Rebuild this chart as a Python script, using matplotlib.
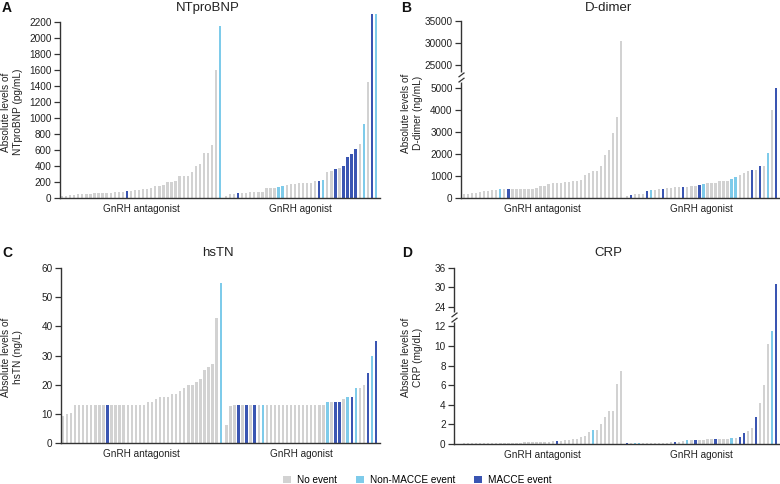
import numpy as np
import matplotlib
matplotlib.use("Agg")
import matplotlib.pyplot as plt
from matplotlib.patches import Patch
from matplotlib.path import Path
import matplotlib.transforms as mtransforms

plt.rcParams['font.family'] = ['Liberation Sans', 'DejaVu Sans']

# ---- data (sorted per group) ----
groups = ["GnRH antagonist", "GnRH agonist"]

ntprobnp_antag = [20, 28, 35, 40, 45, 50, 52, 55, 58, 60, 62, 65, 68, 70, 72, 78, 88, 90, 95, 100,
                  108, 115, 125, 145, 155, 160, 195, 205, 215, 270, 270, 280, 320, 405, 420, 555, 555, 665, 1600, 2150]
ntprobnp_agon = [29, 54, 54, 62, 62, 62, 70, 70, 78, 78, 121, 121, 130, 142, 146, 158, 170, 170, 183, 183,
                 183, 190, 207, 212, 225, 325, 342, 358, 375, 400, 516, 550, 608, 675, 925, 1450, 2900, 2900]

ddimer_antag = [190, 200, 220, 230, 260, 300, 330, 350, 370, 400, 400, 430, 430, 430, 430, 430, 430, 430, 460, 540,
                560, 640, 660, 680, 700, 720, 740, 760, 780, 800, 1050, 1150, 1200, 1230, 1430, 1950, 2180, 2950, 3680, 30500]
ddimer_agon = [105, 135, 180, 195, 195, 300, 345, 375, 405, 420, 440, 450, 490, 495, 510, 515, 530, 560, 590, 650,
               660, 660, 665, 770, 770, 775, 860, 940, 1040, 1130, 1220, 1280, 1290, 1430, 1450, 2020, 3980, 5000]

hstn_antag = [9.5, 10, 10.2, 13, 13, 13, 13, 13, 13, 13, 13, 13, 13, 13, 13, 13, 13, 13, 13, 13,
              13, 14, 14, 15.2, 16, 16, 16, 17, 17, 18, 19, 20, 20, 21, 22, 25, 26, 27, 43, 55]
hstn_agon = [6.3, 12.6, 13, 13, 13, 13, 13, 13, 13, 13, 13, 13, 13, 13, 13, 13, 13, 13, 13, 13,
             13, 13, 13, 13, 13, 14, 14, 14, 14, 15, 16, 16, 19, 19, 20, 24, 30, 35]

crp_antag = [0.07, 0.08, 0.08, 0.1, 0.1, 0.1, 0.1, 0.1, 0.1, 0.1, 0.12, 0.12, 0.15, 0.15, 0.15, 0.17, 0.17, 0.18, 0.2, 0.2,
             0.22, 0.25, 0.27, 0.32, 0.35, 0.4, 0.45, 0.5, 0.55, 0.7, 0.8, 1.2, 1.45, 1.45, 2.0, 2.8, 3.4, 3.4, 6.1, 7.5]
crp_agon = [0.1, 0.08, 0.1, 0.1, 0.1, 0.1, 0.1, 0.1, 0.12, 0.12, 0.15, 0.17, 0.25, 0.25, 0.3, 0.38, 0.4, 0.45, 0.45, 0.45,
            0.47, 0.5, 0.5, 0.5, 0.5, 0.55, 0.6, 0.6, 0.75, 1.1, 1.35, 1.6, 2.8, 4.2, 6.0, 10.2, 11.5, 31]

# patients with events (index within each sorted group)
antag_macce = {"ntprobnp": [16], "ddimer": [11], "hstn": [11], "crp": [23]}
antag_nonmacce = {"ntprobnp": [39], "ddimer": [9], "hstn": [39], "crp": [32]}
agon_macce = {"ntprobnp": [3, 23, 27, 29, 30, 31, 32, 36],
              "ddimer": [1, 5, 9, 14, 18, 31, 33, 37],
              "hstn": [3, 5, 7, 27, 28, 31, 35, 37],
              "crp": [0, 12, 17, 22, 28, 29, 32, 37]}
agon_nonmacce = {"ntprobnp": [13, 14, 24, 34, 37],
                 "ddimer": [6, 19, 26, 27, 35],
                 "hstn": [9, 25, 30, 32, 36],
                 "crp": [2, 3, 15, 26, 36]}

legend_labels = ["No event", "Non-MACCE event", "MACCE event"]

GREY = "#d2d2d2"
LIGHT = "#7ecbea"
DARK = "#3a55b2"
AXC = "#333333"


# broken axes as piecewise-linear scales
def dd_fwd(v):
    v = np.asarray(v, dtype=float)
    return np.where(v <= 5500, v, np.where(v < 25000, 5500 + (v - 5500) * 500 / 19500, 6000 + (v - 25000) / 5))


def dd_inv(y):
    y = np.asarray(y, dtype=float)
    return np.where(y <= 5500, y, np.where(y < 6000, 5500 + (y - 5500) * 19500 / 500, 25000 + (y - 6000) * 5))


def crp_fwd(v):
    v = np.asarray(v, dtype=float)
    return np.where(v <= 13, v, np.where(v < 24, 13 + (v - 13) / 11, 14 + (v - 24) / 3))


def crp_inv(y):
    y = np.asarray(y, dtype=float)
    return np.where(y <= 13, y, np.where(y < 14, 13 + (y - 13) * 11, 24 + (y - 14) * 3))


def colours(n, macce, non):
    c = [GREY] * n
    for i in macce:
        c[i] = DARK
    for i in non:
        c[i] = LIGHT
    return c


W, H = 780, 484
fig = plt.figure(figsize=(W / 100, H / 100), dpi=100)


def px_rect(left, right, top, bottom):
    return [left / W, 1 - bottom / H, (right - left) / W, (bottom - top) / H]


panels = [
    dict(key="ntprobnp", antag=ntprobnp_antag, agon=ntprobnp_agon, title="NTproBNP", letter="A",
         ylabel="Absolute levels of\nNTproBNP (pg/mL)", rect=px_rect(60, 380, 13.5, 198), xl=-0.5,
         ylim=(0, 2300), bounds=(0, 2200), ticks=list(range(0, 2201, 200)), scale=None, brk=None,
         tpos=(208, 8), lpos=(2, 8), ylpx=12, ylpy=112),
    dict(key="ddimer", antag=ddimer_antag, agon=ddimer_agon, title="D-dimer", letter="B",
         ylabel="Absolute levels of\nD-dimer (ng/mL)", rect=px_rect(461, 780, 21.3, 198), xl=-0.75,
         ylim=(0, 35000), bounds=(0, 35000), ticks=[0, 1000, 2000, 3000, 4000, 5000, 25000, 30000, 35000],
         scale=(dd_fwd, dd_inv), brk=5500, tpos=(608, 8), lpos=(401, 8), ylpx=412, ylpy=113),
    dict(key="hstn", antag=hstn_antag, agon=hstn_agon, title="hsTN", letter="C",
         ylabel="Absolute levels of\nhsTN (ng/L)", rect=px_rect(61, 380, 268, 443.3), xl=-0.5,
         ylim=(0, 60), bounds=(0, 60), ticks=list(range(0, 61, 10)), scale=None, brk=None,
         tpos=(218, 253), lpos=(2, 253), ylpx=12, ylpy=357),
    dict(key="crp", antag=crp_antag, agon=crp_agon, title="CRP", letter="D",
         ylabel="Absolute levels of\nCRP (mg/dL)", rect=px_rect(454, 780, 267.7, 444), xl=-2.5,
         ylim=(0, 36), bounds=(0, 36), ticks=[0, 2, 4, 6, 8, 10, 12, 24, 30, 36],
         scale=(crp_fwd, crp_inv), brk=13, tpos=(608, 253), lpos=(402, 253), ylpx=412, ylpy=357),
]

GAP = 0.4
for p in panels:
    ax = fig.add_axes(p["rect"])
    k = p["key"]
    n1, n2 = len(p["antag"]), len(p["agon"])
    x1 = np.arange(n1)
    x2 = n1 + GAP + np.arange(n2)
    if p["scale"] is not None:
        ax.set_yscale("function", functions=p["scale"])
    ax.bar(x1, p["antag"], width=0.58, color=colours(n1, antag_macce[k], antag_nonmacce[k]), linewidth=0)
    ax.bar(x2, p["agon"], width=0.58, color=colours(n2, agon_macce[k], agon_nonmacce[k]), linewidth=0)
    ax.set_xlim(p["xl"], x2[-1] + 1.0)
    ax.set_ylim(*p["ylim"])
    ax.set_yticks(p["ticks"])
    ax.set_yticklabels([str(t) for t in p["ticks"]])
    ax.yaxis.set_minor_locator(matplotlib.ticker.NullLocator())
    ax.set_xticks([x1.mean(), x2.mean()])
    ax.set_xticklabels(groups)
    ax.tick_params(axis="x", length=0, pad=4, labelsize=7.2, colors="#222222")
    ax.tick_params(axis="y", length=4, width=0.9, pad=2, labelsize=7.2, colors="#222222", color=AXC)
    for s in ["top", "right"]:
        ax.spines[s].set_visible(False)
    for s in ["left", "bottom"]:
        ax.spines[s].set_color(AXC)
        ax.spines[s].set_linewidth(1.0)
    ax.spines["left"].set_bounds(*p["bounds"])
    if p["brk"] is not None:
        tr = mtransforms.blended_transform_factory(ax.transAxes, ax.transData)
        gap_m = Path([(0, -0.45), (0, 0.45)], [Path.MOVETO, Path.LINETO])
        slash = Path([(-0.8, -1.3), (0.8, -0.1), (-0.8, 0.1), (0.8, 1.3)],
                     [Path.MOVETO, Path.LINETO, Path.MOVETO, Path.LINETO])
        ax.plot([0], [p["brk"]], transform=tr, marker=gap_m, markersize=7, mec="white", mew=2.0,
                clip_on=False, zorder=5)
        ax.plot([0], [p["brk"]], transform=tr, marker=slash, markersize=7, mec=AXC, mew=0.9,
                clip_on=False, zorder=6)
    # y label, title and panel letter placed in figure pixels
    fig.text(p["ylpx"] / W, 1 - p["ylpy"] / H, p["ylabel"], rotation=90, ha="center", va="center",
             fontsize=7.3, color="#222222", linespacing=1.15, multialignment="center")
    fig.text(p["tpos"][0] / W, 1 - p["tpos"][1] / H, p["title"], ha="center", va="center",
             fontsize=9.5, color="#222222")
    fig.text(p["lpos"][0] / W, 1 - p["lpos"][1] / H, p["letter"], ha="left", va="center",
             fontsize=10, fontweight="bold", color="#111111")

handles = [Patch(facecolor=c, edgecolor="none") for c in [GREY, LIGHT, DARK]]
fig.legend(handles, legend_labels, loc="center", bbox_to_anchor=(0.535, 1 - 480 / H), ncol=3,
           frameon=False, fontsize=7.2, handlelength=0.8, handleheight=0.8, handletextpad=0.6,
           columnspacing=1.9, borderaxespad=0, borderpad=0)

fig.savefig("out.png", dpi=100)
